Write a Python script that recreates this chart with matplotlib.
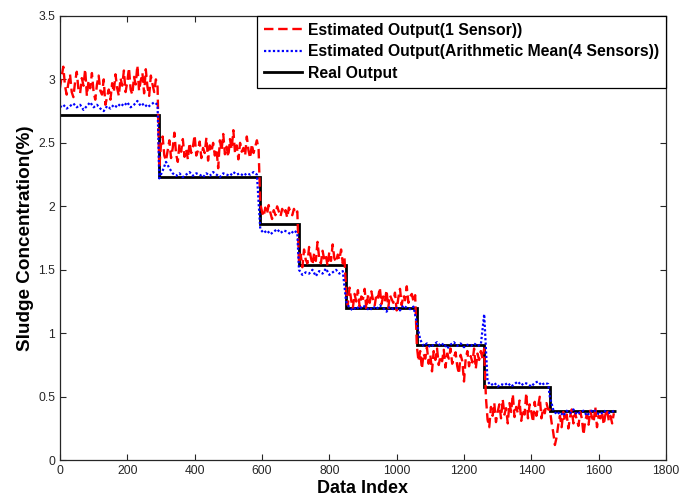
import numpy as np
import matplotlib
matplotlib.use("Agg")
import matplotlib.pyplot as plt

plt.rcParams['font.family'] = ['Liberation Sans', 'DejaVu Sans']

# Real output: step levels and the data indices where each level starts/ends
step_edges = [0, 295, 595, 710, 850, 1060, 1260, 1455, 1650]
real_levels = [2.72, 2.23, 1.86, 1.54, 1.20, 0.91, 0.58, 0.39]

# Estimated output from a single sensor (sampled every 5 data indices)
single_step = 5
single_sensor = [
    [2.93, 3.02, 3.10, 2.95, 2.88, 2.97, 3.04, 2.90, 2.86, 2.98, 3.06, 2.92, 2.89, 3.01, 2.95,
     3.08, 2.87, 2.99, 2.93, 3.05, 2.90, 2.84, 2.96, 3.03, 2.91, 2.88, 3.00, 2.80, 2.86, 2.92,
     2.84, 2.97, 2.90, 3.04, 2.93, 2.87, 3.01, 2.95, 3.07, 2.90, 2.98, 3.09, 2.92, 2.88, 3.02,
     2.96, 3.11, 2.91, 2.99, 3.05, 2.89, 3.08, 2.94, 2.87, 3.03, 2.96, 2.90, 3.00, 2.94],
    [2.30, 2.48, 2.55, 2.40, 2.36, 2.44, 2.52, 2.38, 2.46, 2.58, 2.41, 2.35, 2.49, 2.43, 2.53,
     2.39, 2.45, 2.37, 2.50, 2.42, 2.47, 2.56, 2.40, 2.44, 2.51, 2.38, 2.46, 2.42, 2.54, 2.36,
     2.48, 2.43, 2.50, 2.40, 2.45, 2.30, 2.52, 2.44, 2.57, 2.41, 2.47, 2.39, 2.53, 2.45, 2.60,
     2.42, 2.48, 2.37, 2.50, 2.43, 2.46, 2.40, 2.55, 2.44, 2.38, 2.49, 2.42, 2.47, 2.52, 2.45],
    [2.02, 1.96, 1.92, 1.99, 1.94, 2.01, 1.95, 1.90, 1.97, 1.93, 2.00, 1.96, 1.92, 1.98, 1.94,
     1.97, 1.91, 1.99, 1.95, 1.93, 1.98, 1.94, 1.96],
    [1.56, 1.62, 1.52, 1.66, 1.58, 1.55, 1.68, 1.60, 1.54, 1.63, 1.57, 1.72, 1.59, 1.55, 1.65,
     1.58, 1.61, 1.53, 1.64, 1.57, 1.70, 1.59, 1.56, 1.62, 1.58, 1.66, 1.55, 1.60],
    [1.32, 1.22, 1.36, 1.26, 1.20, 1.31, 1.25, 1.34, 1.21, 1.29, 1.27, 1.35, 1.19, 1.30, 1.24,
     1.33, 1.26, 1.22, 1.31, 1.28, 1.36, 1.23, 1.29, 1.25, 1.34, 1.20, 1.30, 1.27, 1.24, 1.32,
     1.18, 1.28, 1.35, 1.22, 1.30, 1.26, 1.37, 1.24, 1.29, 1.31, 1.25, 1.30],
    [0.90, 0.78, 0.86, 0.72, 0.84, 0.80, 0.89, 0.76, 0.83, 0.70, 0.86, 0.79, 0.88, 0.75, 0.82,
     0.78, 0.87, 0.73, 0.84, 0.80, 0.88, 0.76, 0.81, 0.85, 0.74, 0.68, 0.83, 0.78, 0.62, 0.80,
     0.86, 0.74, 0.82, 0.77, 0.88, 0.72, 0.84, 0.79, 0.86, 0.80],
    [0.88, 0.50, 0.32, 0.26, 0.42, 0.35, 0.45, 0.30, 0.38, 0.44, 0.33, 0.48, 0.36, 0.41, 0.29,
     0.45, 0.38, 0.52, 0.34, 0.42, 0.37, 0.47, 0.31, 0.40, 0.36, 0.53, 0.33, 0.44, 0.38, 0.30,
     0.46, 0.35, 0.42, 0.50, 0.33, 0.41, 0.37, 0.45, 0.40],
    [0.40, 0.30, 0.22, 0.12, 0.18, 0.28, 0.35, 0.26, 0.38, 0.31, 0.36, 0.25, 0.34, 0.40, 0.29,
     0.37, 0.32, 0.27, 0.38, 0.33, 0.20, 0.31, 0.36, 0.28, 0.39, 0.34, 0.30, 0.42, 0.26, 0.35,
     0.33, 0.38, 0.28, 0.36, 0.40, 0.31, 0.35, 0.29, 0.37],
]

# Estimated output from the arithmetic mean of four sensors (every 10 data indices)
mean_step = 10
mean_sensors = [
    [2.78, 2.80, 2.77, 2.79, 2.81, 2.78, 2.80, 2.76, 2.79, 2.82, 2.78, 2.80, 2.77, 2.75, 2.79,
     2.77, 2.80, 2.78, 2.81, 2.79, 2.82, 2.78, 2.80, 2.83, 2.79, 2.81, 2.78, 2.80, 2.82, 2.80],
    [2.22, 2.28, 2.35, 2.30, 2.26, 2.24, 2.26, 2.23, 2.25, 2.27, 2.24, 2.26, 2.25, 2.23, 2.26,
     2.24, 2.27, 2.25, 2.23, 2.26, 2.25, 2.24, 2.27, 2.25, 2.26, 2.24, 2.26, 2.25, 2.27, 2.25],
    [1.82, 1.79, 1.81, 1.78, 1.80, 1.82, 1.79, 1.81, 1.80, 1.78, 1.81, 1.79],
    [1.50, 1.46, 1.48, 1.47, 1.50, 1.45, 1.49, 1.47, 1.51, 1.46, 1.48, 1.50, 1.47, 1.49],
    [1.25, 1.20, 1.18, 1.21, 1.19, 1.22, 1.20, 1.18, 1.21, 1.19, 1.22, 1.20, 1.17, 1.21, 1.19,
     1.20, 1.18, 1.22, 1.20, 1.19, 1.21],
    [1.08, 0.95, 0.90, 0.92, 0.89, 0.91, 0.93, 0.90, 0.92, 0.88, 0.91, 0.93, 0.90, 0.92, 0.89,
     0.91, 0.90, 0.92, 0.90, 0.91],
    [1.15, 0.62, 0.59, 0.61, 0.58, 0.60, 0.59, 0.61, 0.58, 0.60, 0.62, 0.59, 0.61, 0.60, 0.58,
     0.61, 0.62, 0.59, 0.61, 0.60],
    [0.50, 0.40, 0.36, 0.38, 0.35, 0.39, 0.37, 0.40, 0.36, 0.38, 0.39, 0.35, 0.38, 0.40, 0.37,
     0.36, 0.39, 0.38, 0.37, 0.39],
]

x_ticks = [0, 200, 400, 600, 800, 1000, 1200, 1400, 1600, 1800]
y_ticks = [0, 0.5, 1, 1.5, 2, 2.5, 3, 3.5]
y_tick_labels = ['0', '0.5', '1', '1.5', '2', '2.5', '3', '3.5']


def build_series(segments, step):
    xs, ys = [], []
    for start, seg in zip(step_edges[:-1], segments):
        xs.append(start + step * np.arange(len(seg)))
        ys.append(np.asarray(seg, dtype=float))
    return np.concatenate(xs), np.concatenate(ys)


x_single, y_single = build_series(single_sensor, single_step)
x_mean, y_mean = build_series(mean_sensors, mean_step)

fig = plt.figure(figsize=(6.81, 4.97), dpi=100)
ax = fig.add_axes([0.088, 0.074, 0.890, 0.894])

ax.plot(x_single, y_single, color='red', linestyle=(0, (4, 2)), linewidth=1.7,
        label='Estimated Output(1 Sensor))')
ax.plot(x_mean, y_mean, color='blue', linestyle=(0, (1, 1)), linewidth=1.6,
        label='Estimated Output(Arithmetic Mean(4 Sensors))')
ax.stairs(real_levels, step_edges, baseline=None, color='black', linewidth=2.0,
          label='Real Output')

ax.set_xlim(0, 1800)
ax.set_ylim(0, 3.5)
ax.set_xticks(x_ticks)
ax.set_xticklabels([str(v) for v in x_ticks])
ax.set_yticks(y_ticks)
ax.set_yticklabels(y_tick_labels)
ax.tick_params(direction='in', top=True, right=True, labelsize=8.7, length=4,
               colors='#262626', labelcolor='#262626')
for sp in ax.spines.values():
    sp.set_linewidth(0.9)
    sp.set_color('#262626')

ax.set_xlabel('Data Index', fontsize=13, fontweight='bold', labelpad=2)
ax.set_ylabel('Sludge Concentration(%)', fontsize=13.6, fontweight='bold', labelpad=3)

leg = ax.legend(loc='upper right', bbox_to_anchor=(1.0, 1.0), borderaxespad=0,
                prop={'weight': 'bold', 'size': 11.3}, handlelength=2.4,
                fancybox=False, framealpha=1, edgecolor='black',
                borderpad=0.45, labelspacing=0.4, handletextpad=0.4)
leg.get_frame().set_linewidth(0.9)

fig.savefig('out.png', dpi=100)
